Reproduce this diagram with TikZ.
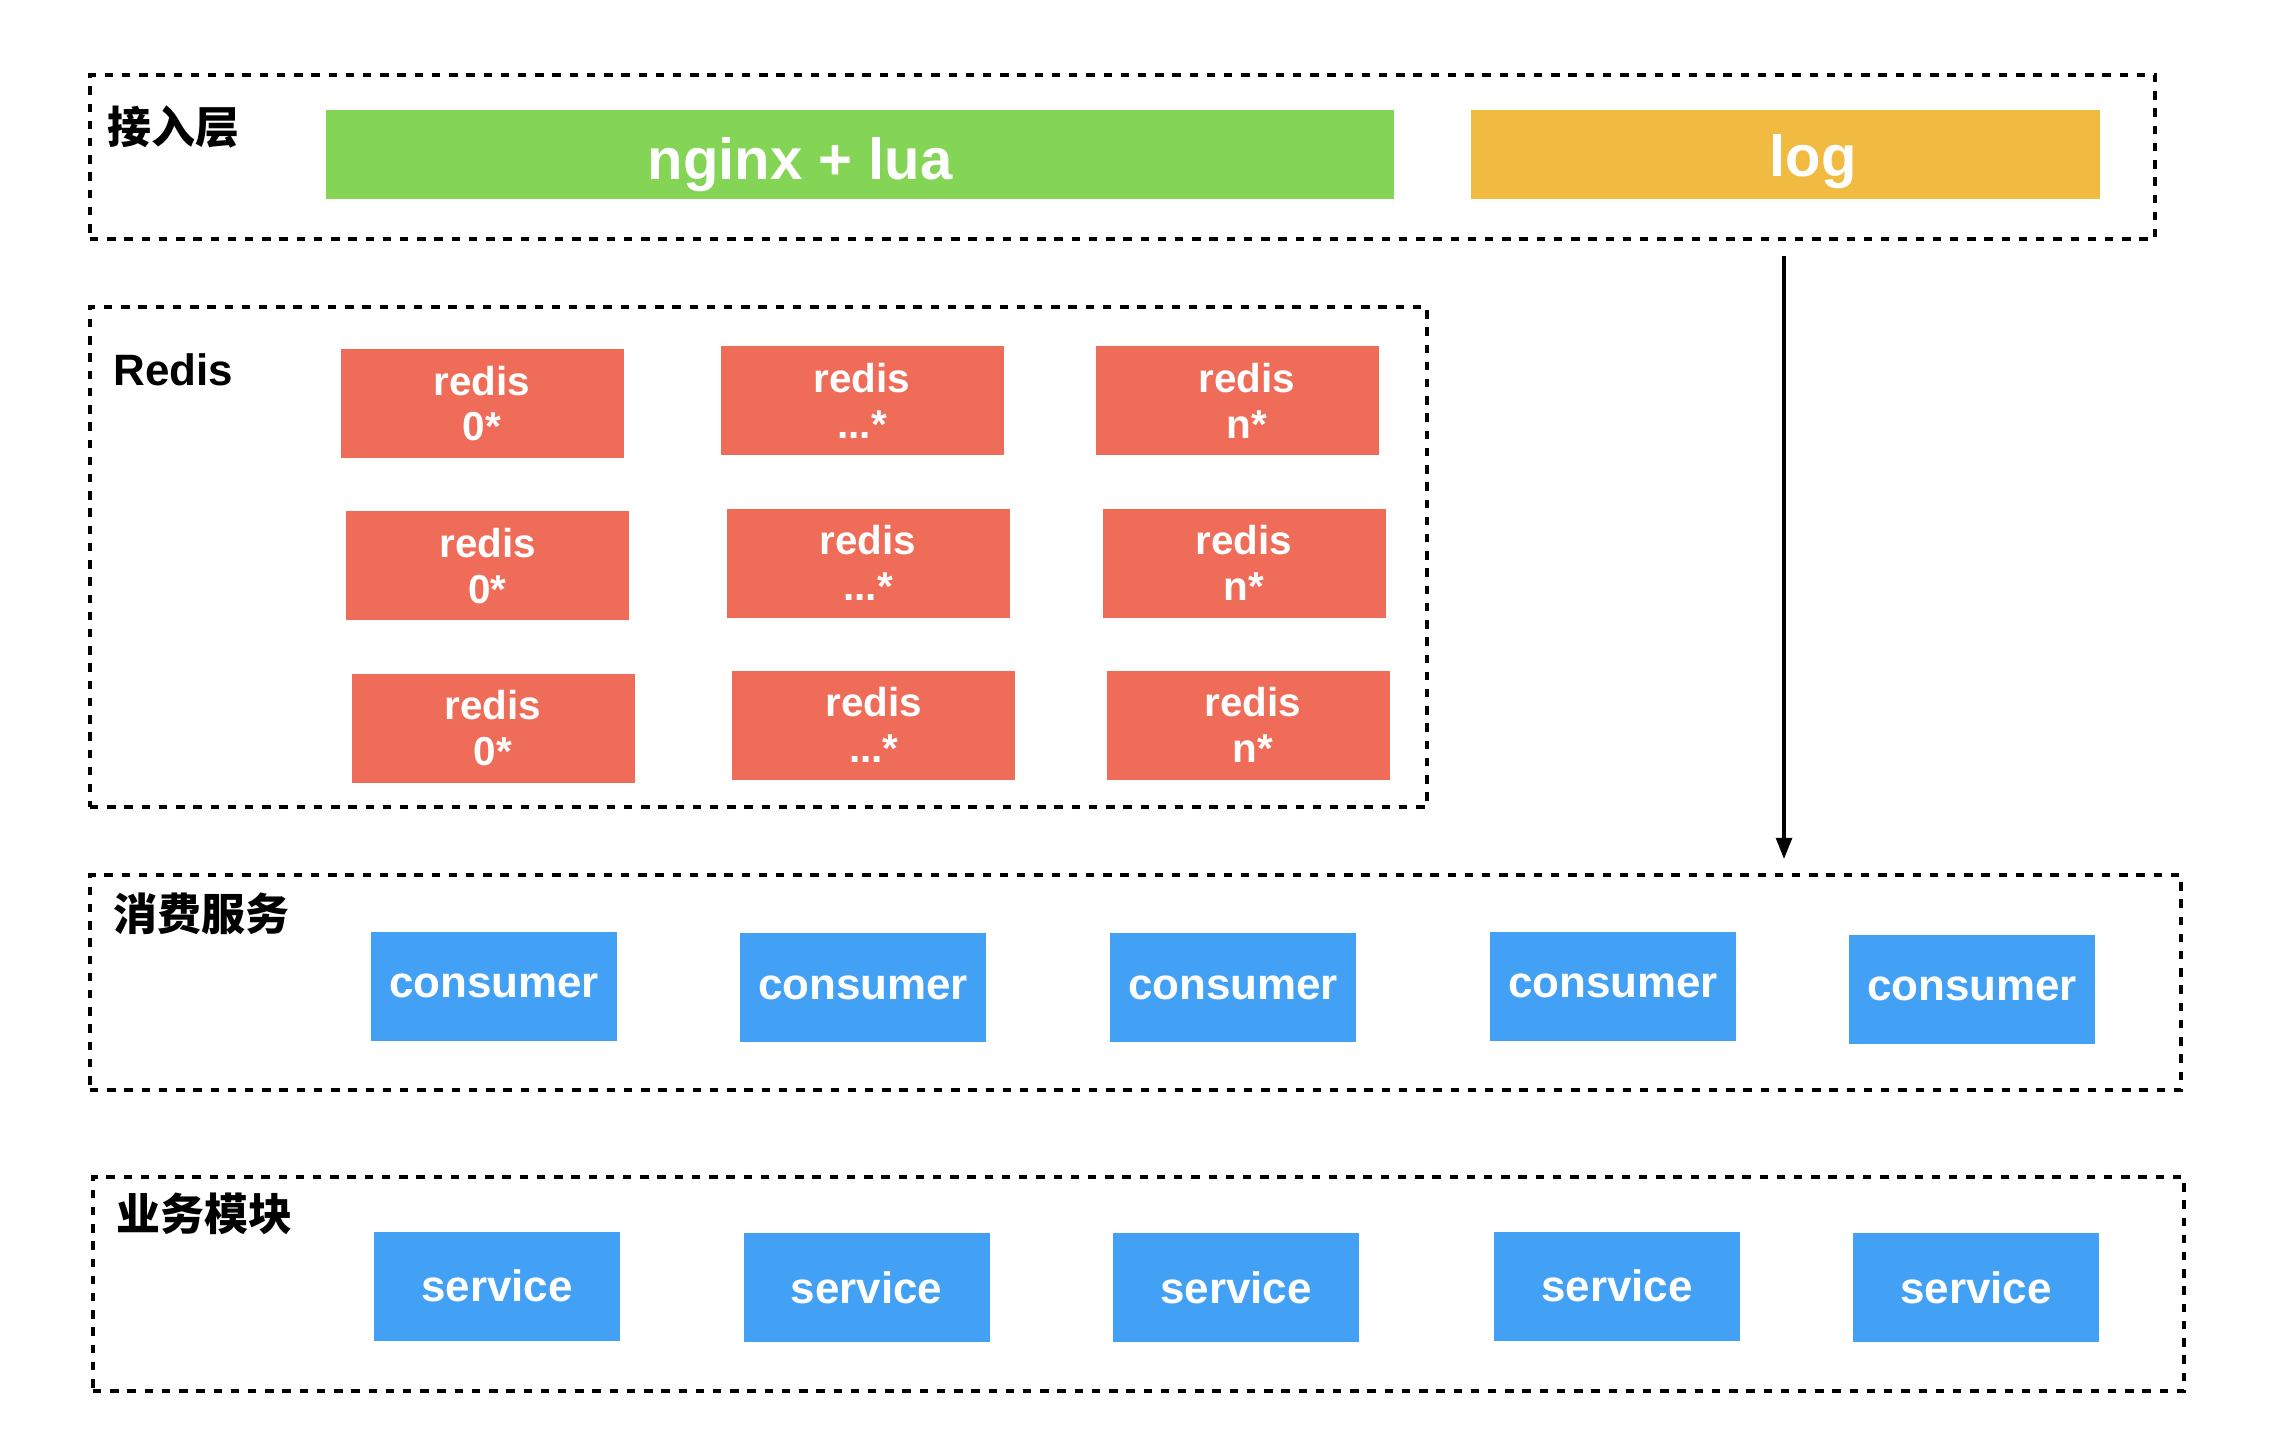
\documentclass[tikz,border=0pt]{standalone}
\usepackage{fontspec}
\setmainfont{Liberation Sans}
\newfontfamily\cjk{Noto Sans CJK SC}
\usetikzlibrary{arrows.meta}

\definecolor{nginxgreen}{HTML}{84D455}
\definecolor{logyellow}{HTML}{F0BB40}
\definecolor{redisred}{HTML}{EE6C58}
\definecolor{workblue}{HTML}{42A1F5}

\begin{document}
\begin{tikzpicture}[
  layer/.style={rectangle,draw=black,line width=1.4pt,dash pattern=on 2.4pt off 2.5pt,inner sep=0pt},
  layername/.style={anchor=west,inner sep=0pt,font=\bfseries\fontsize{12.5}{14}\selectfont},
  topbox/.style={rectangle,inner sep=0pt,minimum height=0.89cm},
  toptext/.style={inner sep=0pt,text=white,font=\bfseries\fontsize{16.5}{18}\selectfont},
  redisnode/.style={rectangle,fill=redisred,inner sep=0pt,minimum width=2.83cm,minimum height=1.09cm,text=white,align=center,font=\bfseries\fontsize{11.5}{13}\selectfont},
  worknode/.style={rectangle,fill=workblue,inner sep=0pt,minimum width=2.46cm,minimum height=1.09cm,text=white,font=\bfseries\fontsize{12.5}{14}\selectfont},
  flow/.style={-{Triangle[length=6pt,width=4.5pt]},line width=0.9pt}]
\useasboundingbox (0,0) rectangle (22.72,-14.38);
\path
% layers
(11.225,-1.57) node[layer,minimum width=20.65cm,minimum height=1.64cm] (accessframe) {}
(7.585,-5.57) node[layer,minimum width=13.37cm,minimum height=5.0cm] (redisframe) {}
(11.355,-9.825) node[layer,minimum width=20.91cm,minimum height=2.15cm] (consumerframe) {}
(11.385,-12.84) node[layer,minimum width=20.91cm,minimum height=2.14cm] (serviceframe) {}

(1.07,-1.275) node[layername] (accesslabel) {\cjk\bfseries 接入层}
(1.13,-3.695) node[layername] (redislabel) {Redis}
(1.13,-9.14) node[layername] (consumerlabel) {\cjk\bfseries 消费服务}
(1.16,-12.14) node[layername] (servicelabel) {\cjk\bfseries 业务模块}

% access layer
(8.6,-1.545) node[topbox,fill=nginxgreen,minimum width=10.68cm] (nginx) {}
(17.855,-1.545) node[topbox,fill=logyellow,minimum width=6.29cm] (log) {}
(8.0,-1.65) node[toptext] (nginxtext) {nginx + lua}
(18.13,-1.62) node[toptext] (logtext) {log}

% redis
(4.82,-4.036) node[redisnode] (r00) {redis\\0*}
(8.62,-4.006) node[redisnode] (r01) {redis\\...*}
(12.37,-4.006) node[redisnode] (r02) {\hspace*{0.2cm}redis\\\hspace*{0.2cm}n*}
(4.876,-5.658) node[redisnode] (r10) {redis\\0*}
(8.68,-5.63) node[redisnode] (r11) {redis\\...*}
(12.44,-5.63) node[redisnode] (r12) {redis\\n*}
(4.93,-7.28) node[redisnode] (r20) {redis\\0*}
(8.737,-7.25) node[redisnode] (r21) {redis\\...*}
(12.48,-7.25) node[redisnode] (r22) {\hspace*{0.1cm}redis\\\hspace*{0.1cm}n*}

% consumers
(4.94,-9.86) node[worknode] (c1) {consumer}
(8.63,-9.875) node[worknode] (c2) {consumer}
(12.33,-9.875) node[worknode] (c3) {consumer}
(16.13,-9.86) node[worknode] (c4) {consumer}
(19.72,-9.89) node[worknode] (c5) {consumer}

% services
(4.97,-12.86) node[worknode] (s1) {service}
(8.665,-12.875) node[worknode] (s2) {service}
(12.36,-12.875) node[worknode] (s3) {service}
(16.17,-12.86) node[worknode] (s4) {service}
(19.76,-12.875) node[worknode] (s5) {service}
;
\coordinate (logout) at (17.84,-2.565);
\coordinate (consumerin) at (17.84,-8.59);
\draw[flow] (logout) -- (consumerin);
\end{tikzpicture}
\end{document}
